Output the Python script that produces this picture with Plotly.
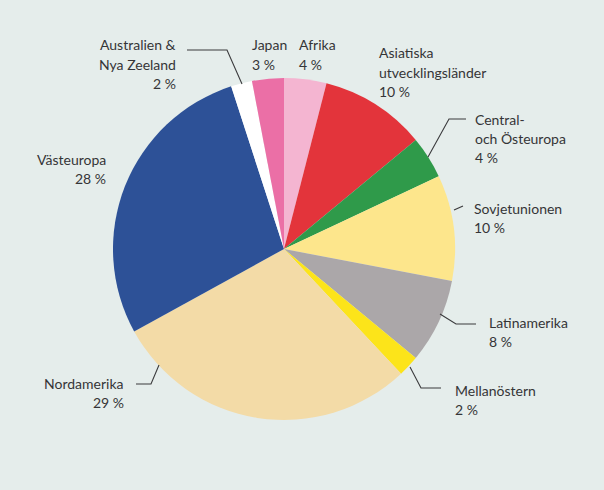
import math
import plotly.graph_objects as go

W, H = 604, 490

# ---- data ----
regions = ["Afrika", "Asiatiska utvecklingsländer", "Central- och Östeuropa",
           "Sovjetunionen", "Latinamerika", "Mellanöstern", "Nordamerika",
           "Västeuropa", "Australien & Nya Zeeland", "Japan"]
label_lines = [["Afrika"], ["Asiatiska", "utvecklingsländer"], ["Central-", "och Östeuropa"],
               ["Sovjetunionen"], ["Latinamerika"], ["Mellanöstern"], ["Nordamerika"],
               ["Västeuropa"], ["Australien &", "Nya Zeeland"], ["Japan"]]
shares = [4, 10, 4, 10, 8, 2, 29, 28, 2, 3]
colors = ["#f4b5d1", "#e3343b", "#2f9a4a", "#fde68c", "#aba7a9", "#fce41a",
          "#f3dba7", "#2d5197", "#ffffff", "#eb6fa6"]

# ---- layout (pixels) ----
cx, cy, r = 284, 249, 171
# label anchor: (x, y of first line, xanchor)
label_pos = [(297, 45, "left"), (377, 53, "left"), (473, 119, "left"),
             (472, 208, "left"), (487, 322, "left"), (453, 390, "left"),
             (126, 383, "right"), (108, 159, "right"), (178, 45, "right"),
             (250, 45, "left")]
# leader lines (pixel polylines)
leaders = [None,
           None,
           [(466, 119), (449, 119), (428, 157)],
           [(463, 206), (454, 210)],
           [(476, 324), (456, 324), (440, 314)],
           [(441, 388), (421, 388), (410, 367)],
           [(136, 384), (151, 384), (159, 365)],
           None,
           [(187, 50), (227, 50), (242, 84)],
           None]
line_h = 19
font = dict(family="Lato, 'Open Sans', sans-serif", size=14, color="#353537")

fig = go.Figure(go.Pie(
    labels=regions, values=shares, sort=False, direction="clockwise", rotation=0,
    marker=dict(colors=colors, line=dict(width=0)), textinfo="none",
    hoverinfo="label+percent", showlegend=False,
    domain=dict(x=[(cx - r) / W, (cx + r) / W], y=[1 - (cy + r) / H, 1 - (cy - r) / H]),
))

def px(x):
    return x / W

def py(y):
    return 1 - y / H

annotations = []
for lines, v, (x, y, anchor) in zip(label_lines, shares, label_pos):
    for i, t in enumerate(lines + [f"{v} %"]):
        annotations.append(dict(
            x=px(x), y=py(y + i * line_h), xref="paper", yref="paper",
            text=t, showarrow=False, xanchor=anchor, yanchor="middle", font=font))

shapes = []
for pts in leaders:
    if not pts:
        continue
    path = "M " + " L ".join(f"{px(a)},{py(b)}" for a, b in pts)
    shapes.append(dict(type="path", path=path, xref="paper", yref="paper",
                       line=dict(color="#3b3b3d", width=1.1)))

fig.update_layout(
    width=W, height=H, margin=dict(l=0, r=0, t=0, b=0),
    paper_bgcolor="#e5edeb", plot_bgcolor="#e5edeb",
    annotations=annotations, shapes=shapes,
)

fig.write_html("out.html")
